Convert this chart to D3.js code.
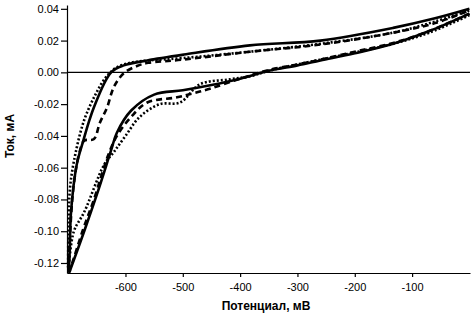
<!DOCTYPE html>
<html>
<head>
  <meta charset="utf-8">
  <title>cv-loops</title>
  <style>
    body { margin: 0; background: #fff; }
    .axis text { font-family: "Liberation Sans", Arial, sans-serif; font-size: 11px; fill: #000; }
    .axis path, .axis line { stroke: #000; stroke-width: 1.2; }
    .lbl { font-family: "Liberation Sans", Arial, sans-serif; font-size: 12px; font-weight: bold; }
  </style>
  <script src="https://cdn.jsdelivr.net/npm/d3@7"></script>
</head>
<body>
<script>
  // сплошная кривая (мВ, мА), сначала катодная ветвь, потом обратно
  var solidMV = [0, -70, -133, -200, -260, -300, -350, -400, -450, -500, -550, -590, -615, -625, -650, -672, -695, -698,
                 -697, -695, -685, -676, -655, -625, -603, -562, -498, -383, -260, -133, -60, 0];
  var solidMA = [0.037, 0.026, 0.018, 0.012, 0.0075, 0.0044, 0.001, -0.004, -0.008, -0.0113, -0.0140, -0.024, -0.038, -0.049, -0.077, -0.100, -0.123, -0.126,
                 -0.110, -0.088, -0.058, -0.046, -0.022, 0.0, 0.0044, 0.0075, 0.0112, 0.017, 0.020, 0.028, 0.034, 0.040];

  // штриховая
  var dashMV = [0, -70, -133, -200, -260, -300, -350, -400, -450, -480, -510, -562, -590, -615, -630, -655, -675, -695, -698,
                -697, -690, -680, -672, -655, -645, -632, -620, -603, -580, -560, -500, -383, -260, -133, -60, 0];
  var dashMA = [0.037, 0.026, 0.0185, 0.013, 0.008, 0.005, 0.0015, -0.004, -0.010, -0.013, -0.0157, -0.019, -0.028, -0.040, -0.052, -0.080, -0.100, -0.122, -0.124,
                -0.105, -0.070, -0.050, -0.043, -0.042, -0.032, -0.022, -0.009, -0.0006, 0.004, 0.006, 0.008, 0.013, 0.0175, 0.025, 0.031, 0.039];

  // точечная
  var dotMV = [0, -70, -133, -200, -260, -300, -350, -383, -418, -470, -505, -540, -575, -600, -620, -637, -672, -690, -700,
               -700, -699, -696, -686, -672, -653, -636, -618, -592, -560, -500, -383, -260, -133, -60, 0];
  var dotMA = [0.036, 0.025, 0.018, 0.0125, 0.008, 0.005, 0.001, -0.0025, -0.0044, -0.0075, -0.019, -0.020, -0.028, -0.040, -0.050, -0.058, -0.088, -0.100, -0.124,
               -0.120, -0.090, -0.070, -0.049, -0.030, -0.0144, -0.004, 0.0025, 0.006, 0.0075, 0.009, 0.013, 0.018, 0.025, 0.032, 0.039];

  var yTicks = [-0.12, -0.10, -0.08, -0.06, -0.04, -0.02, 0.00, 0.02, 0.04];
  var xTicks = [-600, -500, -400, -300, -200, -100];

  var W = 472, H = 316;
  var svg = d3.select("body").append("svg").attr("width", W).attr("height", H);

  var x = d3.scaleLinear().domain([-702, 1]).range([67, 470]);
  var y = d3.scaleLinear().domain([-0.1263, 0.0424]).range([273, 5]);

  // оси (обычный дефис вместо U+2212)
  svg.append("g")
    .attr("class", "axis")
    .attr("transform", "translate(67,0)")
    .call(d3.axisLeft(y).tickValues(yTicks).tickFormat(function(d) { return d.toFixed(2); })
      .tickSize(6).tickSizeOuter(0).tickPadding(2));

  svg.append("g")
    .attr("class", "axis")
    .attr("transform", "translate(0,273)")
    .call(d3.axisBottom(x).tickValues(xTicks).tickFormat(function(d) { return String(d); })
      .tickSize(4).tickSizeOuter(0).tickPadding(6));

  // нулевая линия
  svg.append("line")
    .attr("x1", x(-702)).attr("x2", x(1))
    .attr("y1", y(0)).attr("y2", y(0))
    .attr("stroke", "#000").attr("stroke-width", 1.2);

  var line = d3.line()
    .x(function(d) { return x(d[0]); })
    .y(function(d) { return y(d[1]); })
    .curve(d3.curveCatmullRom.alpha(0.5));

  function draw(mv, ma, dash, w) {
    svg.append("path")
      .datum(d3.zip(mv, ma))
      .attr("d", line)
      .attr("fill", "none")
      .attr("stroke", "#000")
      .attr("stroke-width", w)
      .attr("stroke-dasharray", dash);
  }

  draw(dotMV, dotMA, "2,2", 2.6);
  draw(dashMV, dashMA, "6,4", 2.6);
  draw(solidMV, solidMA, null, 2.6);

  // подписи осей
  svg.append("text").attr("class", "lbl")
    .attr("x", 266).attr("y", 310).attr("text-anchor", "middle")
    .text("Потенциал, мВ");

  svg.append("text").attr("class", "lbl")
    .attr("transform", "translate(14,136) rotate(-90)")
    .attr("text-anchor", "middle")
    .text("Ток, мА");
</script>
</body>
</html>
